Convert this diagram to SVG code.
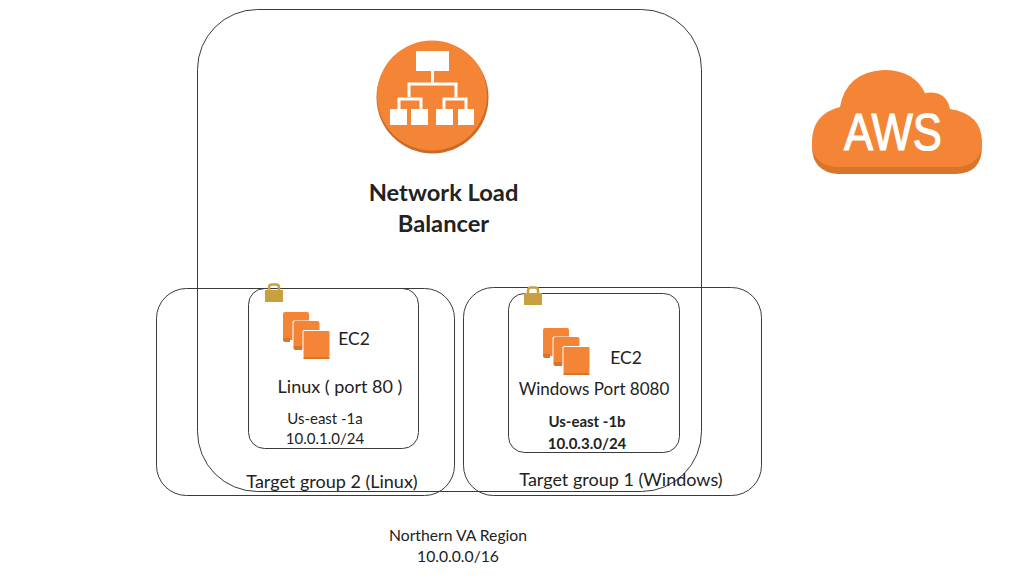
<svg xmlns="http://www.w3.org/2000/svg" width="1024" height="576" viewBox="0 0 1024 576">
<style>
text{font-family:Lato,"Open Sans",sans-serif;fill:#222;text-anchor:middle}
.box{fill:none;stroke:#3a3a3a;stroke-width:1}
.s{fill:#d9742b}.f{fill:#f58536}.w{fill:#fff}
.l{fill:none;stroke:#fff;stroke-width:3}
.lb{fill:#c9a040}
</style>
<defs>
<g id="ec2icon">
<rect x="0" y="0" width="26" height="28" rx="2" class="f"/><path d="M0 26v2q0 2 2 2h5v-4z" class="s"/>
<rect x="9.500" y="8.500" width="28" height="28" rx="2" fill="#fff"/>
<rect x="10.500" y="9" width="26" height="27" rx="2" class="f"/><path d="M10.500 34v2q0 2 2 2h7v-4z" class="s"/>
<rect x="19.500" y="18" width="28" height="29" rx="2" fill="#fff"/>
<rect x="20.500" y="19" width="26" height="26" rx="1" class="f"/><rect x="20.500" y="45" width="26" height="2" class="s"/>
</g>
<g id="lock">
<path d="M4 8V4.500Q4 1.500 7 1.500h4Q14 1.500 14 4.500V8" fill="none" stroke="#c9a040" stroke-width="2.500"/>
<rect x="0" y="7" width="18" height="12" class="lb"/>
</g>
</defs>
<g id="connectors"></g>
<g id="nlb">
<rect class="box" x="197.500" y="9.500" width="504" height="482" rx="60"/>
<circle cx="432.500" cy="97.500" r="56" fill="#c96a28"/>
<circle cx="432" cy="95.500" r="55" class="f"/>
<rect class="w" x="416" y="51" width="33" height="20"/>
<path class="l" d="M432.500 71v12M409 97V84h47v13M399 118V99h22v19M444 118V99h22v19"/>
<rect class="w" x="390" y="109" width="17" height="16"/>
<rect class="w" x="411" y="109" width="17" height="16"/>
<rect class="w" x="436" y="109" width="17" height="16"/>
<rect class="w" x="458" y="109" width="16" height="16"/>
<text x="443.500" y="201" font-size="23.700" font-weight="700">Network Load</text>
<text x="443.500" y="232" font-size="23.700" font-weight="700">Balancer</text>
</g>
<g id="aws">
<path class="s" d="M812 146Q812 118 840 111Q846 76 884 72Q914 72 925 95Q946 92 950 113Q982 118 982 146Q982 174 955 174H838Q812 172 812 146Z"/>
<path class="f" d="M812 142Q812 114 840 107Q846 72 884 70Q914 70 925 93Q946 90 950 109Q982 114 982 142Q982 166 955 167H838Q812 166 812 142Z"/>
<text x="893" y="150" font-size="52" stroke="#fff" stroke-width="1.200" style="fill:#fff;font-family:'Liberation Sans',sans-serif" textLength="98" lengthAdjust="spacingAndGlyphs">AWS</text>
</g>
<g id="tg2">
<rect class="box" x="156.500" y="288.500" width="298" height="207" rx="30"/>
<text x="332" y="488" font-size="18">Target group 2 (Linux)</text>
</g>
<g id="tg1">
<rect class="box" x="463.500" y="287.500" width="298" height="208" rx="30"/>
<text x="621" y="486" font-size="18">Target group 1 (Windows)</text>
</g>
<g id="linux">
<rect class="box" x="248.500" y="288.500" width="170" height="160" rx="16"/>
<use href="#lock" x="265" y="283"/>
<use href="#ec2icon" x="283" y="312"/>
<text x="354" y="345" font-size="17.500">EC2</text>
<text x="340" y="393" font-size="18">Linux ( port 80 )</text>
<text x="325" y="424" font-size="15">Us-east -1a</text>
<text x="325" y="444" font-size="15">10.0.1.0/24</text>
</g>
<g id="windows">
<rect class="box" x="508.500" y="293.500" width="171" height="159" rx="16"/>
<use href="#lock" x="524" y="286"/>
<use href="#ec2icon" x="543" y="328"/>
<text x="626" y="364" font-size="17.500">EC2</text>
<text x="594" y="395" font-size="17">Windows Port 8080</text>
<text x="587" y="427" font-size="15" font-weight="700">Us-east  -1b</text>
<text x="587" y="449" font-size="15" font-weight="700">10.0.3.0/24</text>
</g>
<g id="region">
<text x="458" y="541" font-size="15.700">Northern VA  Region</text>
<text x="458" y="562" font-size="15.700">10.0.0.0/16</text>
</g>
</svg>
